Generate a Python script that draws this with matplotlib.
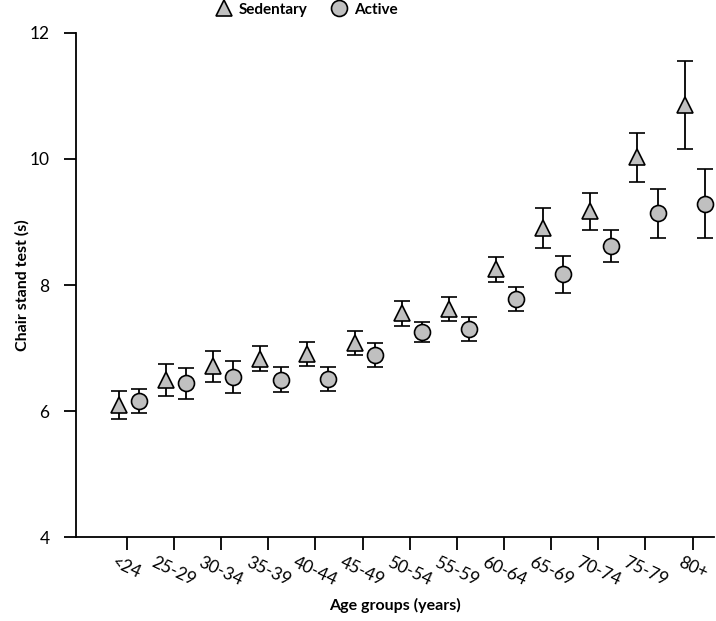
import matplotlib.pyplot as plt
import numpy as np

plt.rcParams['font.family'] = ['Lato', 'DejaVu Sans']

groups = ['<24', '25-29', '30-34', '35-39', '40-44', '45-49', '50-54',
          '55-59', '60-64', '65-69', '70-74', '75-79', '80+']

sedentary = [6.10, 6.49, 6.71, 6.83, 6.91, 7.08, 7.55, 7.62, 8.25, 8.90, 9.17, 10.03, 10.86]
sedentary_err = [0.22, 0.25, 0.25, 0.20, 0.19, 0.19, 0.20, 0.19, 0.20, 0.32, 0.29, 0.39, 0.70]

active = [6.16, 6.44, 6.54, 6.50, 6.51, 6.89, 7.25, 7.31, 7.78, 8.17, 8.62, 9.14, 9.29]
active_err = [0.19, 0.25, 0.25, 0.20, 0.19, 0.19, 0.16, 0.19, 0.19, 0.29, 0.25, 0.39, 0.55]

x = np.arange(len(groups))

fig = plt.figure(figsize=(7.16, 6.21), dpi=100)
ax = fig.add_axes([0.106, 0.135, 0.891, 0.812])

grey = '#c0c0c0'
ax.errorbar(x - 0.17, sedentary, yerr=sedentary_err, fmt='^', ms=12,
            mfc=grey, mec='black', mew=1.2, ecolor='black', elinewidth=1.3,
            capsize=5.5, capthick=1.3, label='Sedentary')
ax.errorbar(x + 0.26, active, yerr=active_err, fmt='o', ms=11.5,
            mfc=grey, mec='black', mew=1.2, ecolor='black', elinewidth=1.3,
            capsize=5.5, capthick=1.3, label='Active')

ax.set_xlim(-1.08, 12.45)
ax.set_ylim(4, 12)
ax.set_yticks([4, 6, 8, 10, 12])
ax.set_xticks(x)
ax.set_xticklabels(groups, rotation=-25, ha='center', fontsize=12.5)
ax.tick_params(axis='y', labelsize=12.5, length=9, width=1.3, direction='out', pad=10)
ax.tick_params(axis='x', length=9, width=1.3, direction='out', pad=3)

for s in ['top', 'right']:
    ax.spines[s].set_visible(False)
for s in ['left', 'bottom']:
    ax.spines[s].set_linewidth(1.3)

ax.set_ylabel('Chair stand test (s)', fontsize=11.5, fontweight='bold')
ax.set_xlabel('Age groups (years)', fontsize=11.5, fontweight='bold')
ax.yaxis.set_label_coords(-0.072, 0.5)
ax.xaxis.set_label_coords(0.5, -0.12)
ax.xaxis.label.set_va('top')

handles, labels = ax.get_legend_handles_labels()
handles = [h[0] for h in handles]
leg = ax.legend(handles, labels, ncol=2, frameon=False, loc='center',
                bbox_to_anchor=(0.362, 1.046), prop={'weight': 'bold', 'size': 11},
                handletextpad=0.45, columnspacing=1.6, handlelength=1.0, borderaxespad=0,
                borderpad=0)

fig.savefig('out.png', dpi=100)
